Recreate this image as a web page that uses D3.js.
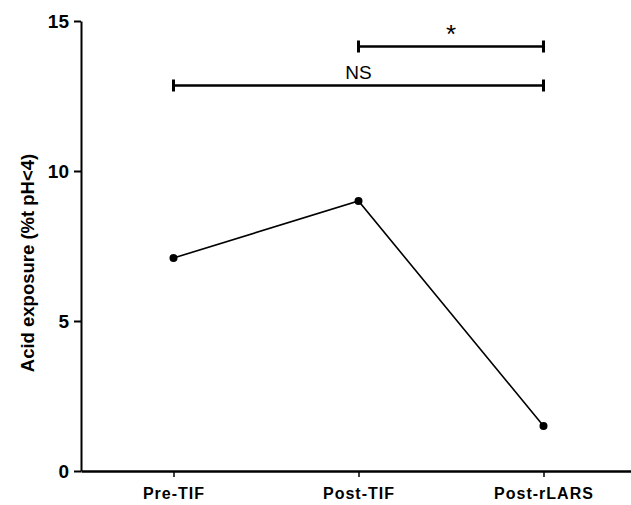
<!DOCTYPE html>
<html>
<head>
<meta charset="utf-8">
<script src="https://cdn.jsdelivr.net/npm/d3@7"></script>
<style>
  body { margin: 0; background: #fff; }
  svg { display: block; }
</style>
</head>
<body>
<svg id="chart" width="631" height="505"></svg>
<script>
var groups = [ 'Pre-TIF', 'Post-TIF', 'Post-rLARS' ],
  acid = [ 7.1, 9.0, 1.5 ],
  yTicks = [ 0, 5, 10, 15 ],
  // comparison brackets: from group, to group, level (data units), label
  brackets = [
    { from: 'Pre-TIF', to: 'Post-rLARS', level: 12.85, label: 'NS' },
    { from: 'Post-TIF', to: 'Post-rLARS', level: 14.15, label: '*' }
  ];

var svg = d3.select( '#chart' ),
  margin = { top: 21, left: 81, bottom: 34 },
  height = +svg.attr( 'height' );

var x = d3.scalePoint()
  .domain( groups )
  .range( [ margin.left, margin.left + 555 ] )
  .padding( 0.5 );

var y = d3.scaleLinear()
  .domain( [ 0, 15 ] )
  .range( [ height - margin.bottom, margin.top ] );

// axes
var yAxis = svg.append( 'g' )
  .attr( 'transform', 'translate(' + margin.left + ',0)' )
  .call( d3.axisLeft( y ).tickValues( yTicks ).tickSize( 7 ).tickSizeOuter( 0 ).tickPadding( 5 ) );

yAxis.select( '.domain' ).attr( 'stroke-width', 2 );
yAxis.selectAll( '.tick line' ).attr( 'stroke-width', 2 );
yAxis.selectAll( 'text' )
  .style( 'font-family', 'Liberation Sans, Arial, sans-serif' )
  .style( 'font-weight', 'bold' )
  .style( 'font-size', '19px' )
  .attr( 'dy', '0.36em' );

var xAxis = svg.append( 'g' )
  .attr( 'transform', 'translate(0,' + ( height - margin.bottom ) + ')' )
  .call( d3.axisBottom( x ).tickSize( 6 ).tickSizeOuter( 0 ).tickPadding( 11 ) );

xAxis.select( '.domain' ).attr( 'stroke-width', 2.5 );
xAxis.selectAll( '.tick line' ).attr( 'stroke-width', 1.5 );
xAxis.selectAll( 'text' )
  .style( 'font-family', 'Liberation Sans, Arial, sans-serif' )
  .style( 'font-weight', 'bold' )
  .style( 'font-size', '16px' )
  .style( 'letter-spacing', '1px' );

svg.append( 'text' )
  .attr( 'transform', 'translate(34,' + ( y( 7.5 ) + 17 ) + ') rotate(-90)' )
  .attr( 'text-anchor', 'middle' )
  .style( 'font-family', 'Liberation Sans, Arial, sans-serif' )
  .style( 'font-weight', 'bold' )
  .style( 'font-size', '18.5px' )
  .text( 'Acid exposure (%t pH<4)' );

/* Line + points */

var line = d3.line()
  .x( ( d, i ) => x( groups[ i ] ) )
  .y( d => y( d ) );

svg.append( 'path' )
  .datum( acid )
  .attr( 'fill', 'none' )
  .attr( 'stroke', '#000' )
  .attr( 'stroke-width', 1.6 )
  .attr( 'd', line );

svg.selectAll( '.pt' )
  .data( acid ).enter().append( 'circle' )
    .attr( 'class', 'pt' )
    .attr( 'cx', ( d, i ) => x( groups[ i ] ) )
    .attr( 'cy', d => y( d ) )
    .attr( 'r', 4 )
    .attr( 'fill', '#000' );

/* Brackets */

var br = svg.selectAll( '.bracket' )
  .data( brackets ).enter().append( 'g' )
    .attr( 'class', 'bracket' );

br.append( 'line' )
  .attr( 'x1', d => x( d.from ) )
  .attr( 'x2', d => x( d.to ) )
  .attr( 'y1', d => y( d.level ) )
  .attr( 'y2', d => y( d.level ) )
  .attr( 'stroke', '#000' )
  .attr( 'stroke-width', 2.5 );

br.selectAll( '.cap' )
  .data( d => [ { g: d.from, level: d.level }, { g: d.to, level: d.level } ] )
  .enter().append( 'line' )
    .attr( 'x1', d => x( d.g ) )
    .attr( 'x2', d => x( d.g ) )
    .attr( 'y1', d => y( d.level ) - 6 )
    .attr( 'y2', d => y( d.level ) + 6 )
    .attr( 'stroke', '#000' )
    .attr( 'stroke-width', 3 );

br.append( 'text' )
  .attr( 'x', d => ( x( d.from ) + x( d.to ) ) / 2 )
  .attr( 'y', d => y( d.level ) - ( d.label === '*' ? 4 : 7 ) )
  .attr( 'text-anchor', 'middle' )
  .style( 'font-family', 'Liberation Sans, Arial, sans-serif' )
  .style( 'font-size', d => d.label === '*' ? '26px' : '19px' )
  .text( d => d.label );
</script>
</body>
</html>
